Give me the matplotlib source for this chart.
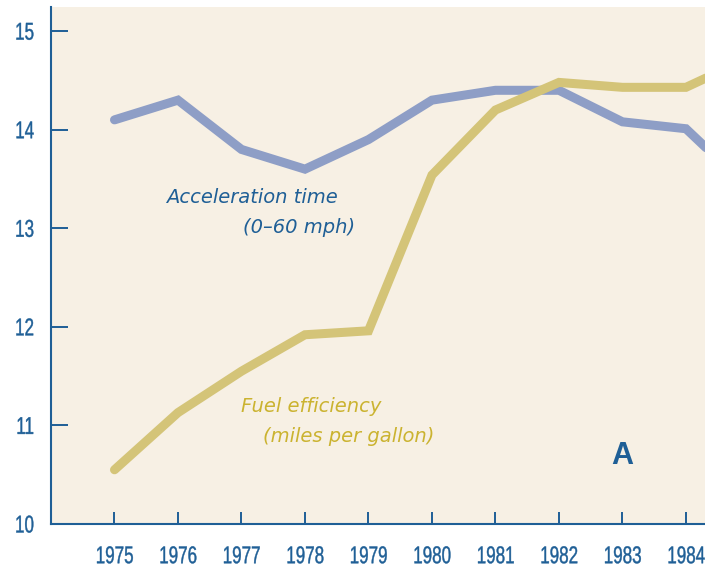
import matplotlib
matplotlib.use("Agg")
import matplotlib.pyplot as plt
from matplotlib.patheffects import AbstractPathEffect
from matplotlib.transforms import Affine2D

YEARS = [1975, 1976, 1977, 1978, 1979, 1980, 1981, 1982, 1983, 1984, 1985]
ACCEL = [14.1, 14.3, 13.8, 13.6, 13.9, 14.3, 14.4, 14.4, 14.08, 14.01, 13.4]
FUEL = [10.55, 11.13, 11.55, 11.92, 11.96, 13.54, 14.2, 14.48, 14.43, 14.43, 14.73]
XTICKS = [1975, 1976, 1977, 1978, 1979, 1980, 1981, 1982, 1983, 1984]
YTICKS = [10, 11, 12, 13, 14, 15]

BG = "#f7f0e4"
DARK = "#1f5f96"
BLUE_LINE = "#8e9ec6"
GOLD_LINE = "#d4c478"
GOLD_TEXT = "#cbb330"


class Condense(AbstractPathEffect):
    """Squeeze text horizontally (no narrow font installed), slightly emboldened."""

    def __init__(self, sx=0.7, anchor="center", stroke=0.3):
        super().__init__()
        self.sx = sx
        self.anchor = anchor
        self.stroke = stroke

    def draw_path(self, renderer, gc, tpath, affine, rgbFace=None):
        ext = tpath.get_extents()
        cx = ext.x1 if self.anchor == "right" else (ext.x0 + ext.x1) / 2
        t = Affine2D().translate(-cx, 0).scale(self.sx, 1).translate(cx, 0)
        gc0 = renderer.new_gc()
        gc0.copy_properties(gc)
        gc0.set_linewidth(self.stroke)
        gc0.set_foreground(rgbFace)
        renderer.draw_path(gc0, tpath, t + affine, rgbFace)
        gc0.restore()


fig = plt.figure(figsize=(7.05, 5.71), dpi=100)
ax = fig.add_axes([51 / 705, 47 / 571, 654 / 705, 517 / 571])
ax.set_facecolor(BG)

ax.plot(YEARS, ACCEL, color=BLUE_LINE, lw=6.5, solid_capstyle="round",
        solid_joinstyle="miter")
ax.plot(YEARS, FUEL, color=GOLD_LINE, lw=6.5, solid_capstyle="round",
        solid_joinstyle="miter")

ax.set_xlim(1974.0, 1984.3)
ax.set_ylim(10, 15.245)

for s in ["top", "right"]:
    ax.spines[s].set_visible(False)
for s in ["left", "bottom"]:
    ax.spines[s].set_color(DARK)
    ax.spines[s].set_linewidth(1.5)

ax.set_xticks(XTICKS)
ax.set_yticks(YTICKS)
ax.tick_params(axis="y", direction="in", length=12, width=1.4, color=DARK,
               pad=12, labelcolor=DARK)
ax.tick_params(axis="x", direction="in", length=8.5, width=1.4, color=DARK,
               pad=16, labelcolor=DARK)
for lab in ax.get_xticklabels():
    lab.set_family("Liberation Sans")
    lab.set_fontsize(17.5)
    lab.set_path_effects([Condense(0.7, "center")])
for lab in ax.get_yticklabels():
    lab.set_family("Liberation Sans")
    lab.set_fontsize(17.5)
    lab.set_path_effects([Condense(0.7, "right")])

lbl = dict(style="italic", fontsize=14.0, family="DejaVu Sans",
           ha="left", va="center")
ax.text(1975.81, 13.31, "Acceleration time", color=DARK, **lbl)
ax.text(1977.02, 13.01, "(0\u201360 mph)", color=DARK, **lbl)
ax.text(1976.99, 11.19, "Fuel efficiency", color=GOLD_TEXT, **lbl)
ax.text(1977.34, 10.89, "(miles per gallon)", color=GOLD_TEXT, **lbl)
ax.text(1982.99, 10.69, "A", fontweight="bold", color=DARK, fontsize=22,
        family="Liberation Sans", ha="center", va="center")

fig.savefig("out.png", dpi=100, facecolor="white")
